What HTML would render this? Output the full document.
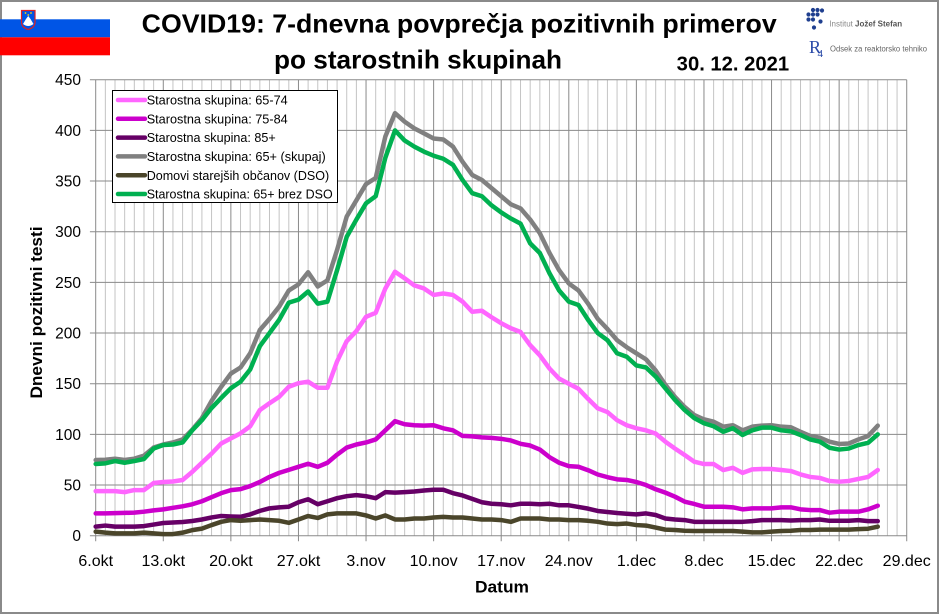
<!DOCTYPE html>
<html>
<head>
<meta charset="utf-8">
<style>
  html,body{margin:0;padding:0;background:#fff;}
  svg{display:block;}
  text{font-family:"Liberation Sans",Arial,sans-serif;}
</style>
</head>
<body>
<svg width="940" height="614" viewBox="0 0 940 614" xmlns="http://www.w3.org/2000/svg">
  <rect x="0" y="0" width="940" height="614" fill="#fff"/>
  <rect x="1" y="1" width="937" height="612" fill="none" stroke="#8a8a8a" stroke-width="2"/>

  <!-- Flag -->
  <rect x="0" y="19.3" width="110" height="18" fill="#0055e6"/>
  <rect x="0" y="37.3" width="110" height="18" fill="#ff0000"/>
  <path d="M21.5,10.5 H35 V22 Q35,27.5 28.25,29.5 Q21.5,27.5 21.5,22 Z" fill="#0055e6" stroke="#e02020" stroke-width="1.2"/>
  <path d="M23,24 L26,19 L28.25,16 L30.5,19 L33.5,24 Q28.25,28 23,24 Z" fill="#fff"/>
  <circle cx="25.5" cy="13" r="0.9" fill="#ffd400"/>
  <circle cx="31" cy="13" r="0.9" fill="#ffd400"/>
  <circle cx="28.25" cy="15" r="0.9" fill="#ffd400"/>

  <!-- Title -->
  <text x="141.7" y="32.7" font-size="26" font-weight="bold" fill="#000" textLength="635" lengthAdjust="spacingAndGlyphs">COVID19: 7-dnevna povprečja pozitivnih primerov</text>
  <text x="274" y="68.5" font-size="26" font-weight="bold" fill="#000" textLength="288" lengthAdjust="spacingAndGlyphs">po starostnih skupinah</text>
  <text x="676.7" y="70.7" font-size="20" font-weight="bold" fill="#000" textLength="112.5" lengthAdjust="spacingAndGlyphs">30. 12. 2021</text>

  <!-- Logos -->
  <g fill="#1f3f8f">
    <circle cx="813" cy="10" r="2.1"/><circle cx="817.5" cy="10" r="2.1"/><circle cx="822" cy="10.5" r="2.1"/>
    <circle cx="808.5" cy="14.5" r="2.1"/><circle cx="813" cy="14.5" r="2.1"/><circle cx="817.5" cy="14.5" r="2.1"/>
    <circle cx="808.5" cy="19.5" r="2.1"/><circle cx="813" cy="19.5" r="2.1"/><circle cx="820.5" cy="21.5" r="2.1"/>
    <circle cx="814" cy="27.5" r="2.1"/>
  </g>
  <text x="829.3" y="26.5" font-size="8" fill="#8a8a8a">Institut</text>
  <text x="855" y="26.5" font-size="8" font-weight="bold" fill="#555">Jožef Stefan</text>
  <text x="809" y="53" font-size="18" fill="#2a4aa8" font-family="Liberation Serif, serif" style="font-family:'Liberation Serif',serif">R</text>
  <text x="817.5" y="57" font-size="11" fill="#2a4aa8" style="font-family:'Liberation Serif',serif">4</text>
  <text x="830" y="51.5" font-size="8" fill="#666" textLength="97" lengthAdjust="spacingAndGlyphs">Odsek za reaktorsko tehniko</text>

  <!-- Grid & series in data coordinates -->
  <g transform="translate(95.7,535.7) scale(9.655,-1.0133)" fill="none">
    <path vector-effect="non-scaling-stroke" stroke="#c4c4c4" stroke-width="1"
      d="M1 0V450M2 0V450M3 0V450M4 0V450M5 0V450M6 0V450M8 0V450M9 0V450M10 0V450M11 0V450M12 0V450M13 0V450M15 0V450M16 0V450M17 0V450M18 0V450M19 0V450M20 0V450M22 0V450M23 0V450M24 0V450M25 0V450M26 0V450M27 0V450M29 0V450M30 0V450M31 0V450M32 0V450M33 0V450M34 0V450M36 0V450M37 0V450M38 0V450M39 0V450M40 0V450M41 0V450M43 0V450M44 0V450M45 0V450M46 0V450M47 0V450M48 0V450M50 0V450M51 0V450M52 0V450M53 0V450M54 0V450M55 0V450M57 0V450M58 0V450M59 0V450M60 0V450M61 0V450M62 0V450M64 0V450M65 0V450M66 0V450M67 0V450M68 0V450M69 0V450M71 0V450M72 0V450M73 0V450M74 0V450M75 0V450M76 0V450M78 0V450M79 0V450M80 0V450M81 0V450M82 0V450M83 0V450"/>
    <path vector-effect="non-scaling-stroke" stroke="#8a8a8a" stroke-width="1"
      d="M7 0V450M14 0V450M21 0V450M28 0V450M35 0V450M42 0V450M49 0V450M56 0V450M63 0V450M70 0V450M77 0V450M84 0V450
         M0 50H84M0 100H84M0 150H84M0 200H84M0 250H84M0 300H84M0 350H84M0 400H84M0 450H84
         M0 0V450M0 0H84
         M-0.6 0H0M-0.6 50H0M-0.6 100H0M-0.6 150H0M-0.6 200H0M-0.6 250H0M-0.6 300H0M-0.6 350H0M-0.6 400H0M-0.6 450H0
         M0 0V-5.5M7 0V-5.5M14 0V-5.5M21 0V-5.5M28 0V-5.5M35 0V-5.5M42 0V-5.5M49 0V-5.5M56 0V-5.5M63 0V-5.5M70 0V-5.5M77 0V-5.5M84 0V-5.5"/>

    <g vector-effect="non-scaling-stroke" stroke-width="4.5" stroke-linejoin="round" stroke-linecap="round">
      <polyline vector-effect="non-scaling-stroke" stroke="#ff66ff" stroke-width="4.5" points="0,44 1,44 2,44 3,43 4,45 5,45 6,52 7,53 8,53.5 9,55 10,63 11,72 12,81 13,91 14,96 15,101 16,108 17,124 18,130.7 19,137 20,147 21,150.5 22,152 23,146 24,146 25,172 26,192 27,202 28,216 29,220 30,244 31,260.5 32,254 33,247 34,244 35,237.6 36,239 37,237.6 38,231 39,221 40,222 41,215.6 42,209.7 43,204.7 44,201 45,188 46,178 47,165 48,155 49,150 50,145 51,135 52,125.7 53,122 54,114 55,109 56,106 57,104 58,100.7 59,92.8 60,86 61,79.6 62,73 63,70.7 64,70.7 65,64.8 66,67 67,62 68,65.5 69,65.8 70,65.8 71,64.8 72,63.8 73,60.5 74,58 75,57 76,54 77,53.3 78,54 79,56 80,58 81,64.8"/>
      <polyline vector-effect="non-scaling-stroke" stroke="#cc00cc" stroke-width="4.5" points="0,22 1,22 2,22.3 3,22.5 4,22.8 5,23.7 6,25 7,26 8,27.5 9,29 10,31 11,34 12,38 13,42 14,45 15,46 16,49 17,53 18,58 19,62 20,65 21,68 22,71 23,68 24,72 25,80 26,87 27,90 28,92 29,95 30,104 31,113 32,110 33,109 34,108.6 35,109 36,106 37,104 38,98.5 39,98 40,97 41,96.5 42,95.6 43,94 44,90.7 45,89 46,85 47,77.5 48,72 49,68.7 50,68 51,64.6 52,60.4 53,57.8 54,55.6 55,55 56,53 57,50 58,45.8 59,42.5 60,38.5 61,33.6 62,31.3 63,28.6 64,28.6 65,28.6 66,28 67,26 68,27 69,27 70,27 71,28 72,28 73,26 74,25.3 75,25.3 76,22.7 77,23.7 78,23.7 79,23.7 80,26 81,29.6"/>
      <polyline vector-effect="non-scaling-stroke" stroke="#660066" stroke-width="4.5" points="0,9 1,10 2,9 3,9 4,9 5,9.5 6,11 7,12.5 8,13 9,13.5 10,14.5 11,16 12,18 13,19.5 14,19 15,18.7 16,21 17,24.5 18,27 19,28 20,28.6 21,33 22,36 23,31 24,34 25,37 26,39 27,40 28,39 29,37 30,43 31,42.5 32,43 33,43.6 34,44.6 35,45.3 36,45.3 37,42 38,39.7 39,36.4 40,33 41,31.5 42,31 43,30 44,31.5 45,31.5 46,31 47,31.5 48,30 49,30 50,28.4 51,26.7 52,24.4 53,23.4 54,22.4 55,21.7 56,21 57,22 58,20.4 59,17 60,16 61,15.4 62,13.7 63,13.7 64,13.7 65,13.7 66,13.7 67,13.7 68,14.4 69,15.4 70,15.4 71,15.4 72,15 73,15.4 74,15.4 75,16 76,14.7 77,14.7 78,14.7 79,15.4 80,14.4 81,14.4"/>
      <polyline vector-effect="non-scaling-stroke" stroke="#808080" stroke-width="4.5" points="0,74.7 1,75 2,76 3,74.7 4,76 5,79 6,87 7,90 8,92 9,95 10,104.6 11,116 12,133 13,147 14,160 15,166 16,180 17,203 18,214 19,226 20,242 21,248 22,260 23,246 24,252 25,282 26,315 27,331 28,347 29,353 30,394 31,417 32,408.6 33,402 34,397 35,392 36,391 37,384 38,369 39,356 40,351 41,343 42,335 43,327 44,323 45,312 46,298.5 47,279 48,262 49,249 50,242 51,229 52,214 53,204 54,193 55,186 56,180 57,174 58,163 59,149 60,137 61,127 62,119 63,114.8 64,112.5 65,107.6 66,109 67,104 68,107.6 69,108.6 70,109 71,107.6 72,107 73,102.6 74,98.4 75,96.7 76,92.8 77,90.5 78,91 79,95 80,98.4 81,108.6"/>
      <polyline vector-effect="non-scaling-stroke" stroke="#4a452a" stroke-width="4.5" points="0,4 1,3 2,2.3 3,2.3 4,2.3 5,3 6,2.3 7,1.6 8,1.6 9,3 10,5.5 11,7 12,10.5 13,13.7 14,15.4 15,14.7 16,15.4 17,16 18,15.4 19,14.7 20,12.7 21,16 22,19.4 23,17.5 24,21 25,22 26,22 27,22 28,20 29,17 30,20 31,16 32,16 33,17 34,17 35,18 36,18.6 37,18 38,18 39,17 40,16 41,16 42,15.4 43,13.7 44,17 45,17 46,17 47,16 48,16 49,15.4 50,15.4 51,14.7 52,13.7 53,12 54,11.4 55,12 56,10.5 57,10 58,8 59,6 60,5.6 61,4.9 62,4.6 63,4.6 64,4.6 65,4.6 66,4.6 67,4 68,3.3 69,3.3 70,4 71,4.6 72,4.9 73,5.6 74,5.6 75,6 76,6 77,6 78,6 79,6.5 80,6.9 81,8.9"/>
      <polyline vector-effect="non-scaling-stroke" stroke="#00b050" stroke-width="4.5" points="0,70.8 1,71.4 2,73.7 3,72 4,73.7 5,75.7 6,86 7,89.5 8,90 9,92 10,104 11,114 12,126 13,136 14,145.5 15,152 16,164 17,187 18,200 19,213 20,230 21,233 22,241 23,229 24,231 25,262 26,295 27,312 28,328 29,335 30,373 31,400 32,390 33,384 34,379 35,375 36,372 37,366 38,351 39,338 40,335 41,326 42,319 43,313 44,308 45,288.5 46,279 47,259 48,242 49,231 50,227.7 51,213 52,200 53,193 54,180 55,176.6 56,168 57,166 58,157 59,145.5 60,134 61,124 62,116 63,111 64,108 65,102.6 66,106 67,99.4 68,104 69,106.6 70,106.6 71,104 72,103 73,99.4 74,95 75,92.8 76,86.8 77,85 78,86 79,89.5 80,91.7 81,100"/>
    </g>
  </g>

  <!-- Legend -->
  <rect x="112.5" y="90.5" width="225" height="112" fill="#fff" stroke="#000" stroke-width="1"/>
  <g stroke-width="4.5" stroke-linecap="round">
    <line x1="118" y1="100" x2="145" y2="100" stroke="#ff66ff"/>
    <line x1="118" y1="118.8" x2="145" y2="118.8" stroke="#cc00cc"/>
    <line x1="118" y1="137.6" x2="145" y2="137.6" stroke="#660066"/>
    <line x1="118" y1="156.4" x2="145" y2="156.4" stroke="#808080"/>
    <line x1="118" y1="175.2" x2="145" y2="175.2" stroke="#4a452a"/>
    <line x1="118" y1="194" x2="145" y2="194" stroke="#00b050"/>
  </g>
  <g font-size="13" fill="#000">
    <text x="146.7" y="104.6" textLength="141" lengthAdjust="spacingAndGlyphs">Starostna skupina: 65-74</text>
    <text x="146.7" y="123.4" textLength="141" lengthAdjust="spacingAndGlyphs">Starostna skupina: 75-84</text>
    <text x="146.7" y="142.2" textLength="129" lengthAdjust="spacingAndGlyphs">Starostna skupina: 85+</text>
    <text x="146.7" y="161" textLength="179" lengthAdjust="spacingAndGlyphs">Starostna skupina: 65+ (skupaj)</text>
    <text x="146.7" y="179.8" textLength="182.5" lengthAdjust="spacingAndGlyphs">Domovi starejših občanov (DSO)</text>
    <text x="146.7" y="198.6" textLength="186" lengthAdjust="spacingAndGlyphs">Starostna skupina: 65+ brez DSO</text>
  </g>

  <!-- Y tick labels -->
  <g font-size="15.5" fill="#000" text-anchor="end">
    <text x="81" y="541.2">0</text>
    <text x="81" y="490.5">50</text>
    <text x="81" y="439.9">100</text>
    <text x="81" y="389.2">150</text>
    <text x="81" y="338.5">200</text>
    <text x="81" y="287.9">250</text>
    <text x="81" y="237.2">300</text>
    <text x="81" y="186.5">350</text>
    <text x="81" y="135.9">400</text>
    <text x="81" y="85.2">450</text>
  </g>

  <!-- X tick labels -->
  <g font-size="16" fill="#000" text-anchor="middle">
    <text x="95.7" y="566">6.okt</text>
    <text x="163.3" y="566">13.okt</text>
    <text x="230.9" y="566">20.okt</text>
    <text x="298.5" y="566">27.okt</text>
    <text x="366.0" y="566">3.nov</text>
    <text x="433.6" y="566">10.nov</text>
    <text x="501.2" y="566">17.nov</text>
    <text x="568.8" y="566">24.nov</text>
    <text x="636.4" y="566">1.dec</text>
    <text x="704.0" y="566">8.dec</text>
    <text x="771.6" y="566">15.dec</text>
    <text x="839.1" y="566">22.dec</text>
    <text x="906.7" y="566">29.dec</text>
  </g>

  <!-- Axis titles -->
  <text x="475" y="592.7" font-size="17" font-weight="bold" fill="#000" textLength="54" lengthAdjust="spacingAndGlyphs">Datum</text>
  <text transform="translate(42,312.5) rotate(-90)" x="0" y="0" font-size="17" font-weight="bold" fill="#000" text-anchor="middle" textLength="172" lengthAdjust="spacingAndGlyphs">Dnevni pozitivni testi</text>
</svg>
</body>
</html>
